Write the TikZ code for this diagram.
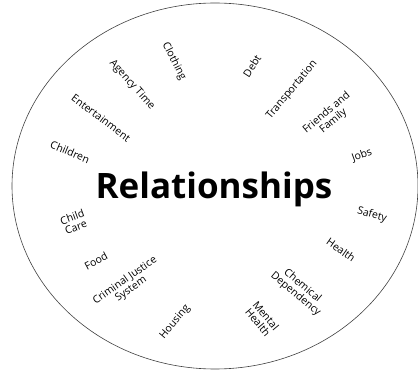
\documentclass[tikz,border=0pt]{standalone}
\usepackage{fontspec}
\setmainfont{Open Sans}
\begin{document}
\begin{tikzpicture}[x=1pt, y=-1pt,
        topic/.style={font=\fontsize{10.5}{10.5}\selectfont, align=center, inner sep=0pt},
        hub/.style={font=\fontsize{35}{38}\selectfont\bfseries, inner sep=0pt}]
        \useasboundingbox (0, 0) rectangle (418, 371);
        \draw[color=black!75, line width=0.6pt] (215, 186) ellipse [x radius=203, y radius=183];
        \node[hub] (rel) at (214, 189) {Relationships};
        \node[topic, rotate=-63] (clothing) at (174, 61) {Clothing};
        \node[topic, rotate=-48] (agency) at (132, 85) {Agency Time};
        \node[topic, rotate=-37] (enter) at (101, 118) {Entertainment};
        \node[topic, rotate=-23] (children) at (70, 152) {Children};
        \node[topic, rotate=20] (childcare) at (74, 222) {Child\\Care};
        \node[topic, rotate=28] (food) at (96, 261) {Food};
        \node[topic, rotate=35] (justice) at (128, 285) {Criminal Justice\\System};
        \node[topic, rotate=50] (housing) at (175, 322) {Housing};
        \node[topic, rotate=-50] (mental) at (262, 319) {Mental\\Health};
        \node[topic, rotate=-40] (chemical) at (299, 290) {Chemical\\Dependency};
        \node[topic, rotate=-35] (health) at (341, 250) {Health};
        \node[topic, rotate=-15] (safety) at (372, 215) {Safety};
        \node[topic, rotate=20] (jobs) at (362, 155) {Jobs};
        \node[topic, rotate=40] (friends) at (330, 117) {Friends and\\Family};
        \node[topic, rotate=50] (transport) at (292, 90) {Transportation};
        \node[topic, rotate=57] (debt) at (252, 66) {Debt};
    \end{tikzpicture}
\end{document}
